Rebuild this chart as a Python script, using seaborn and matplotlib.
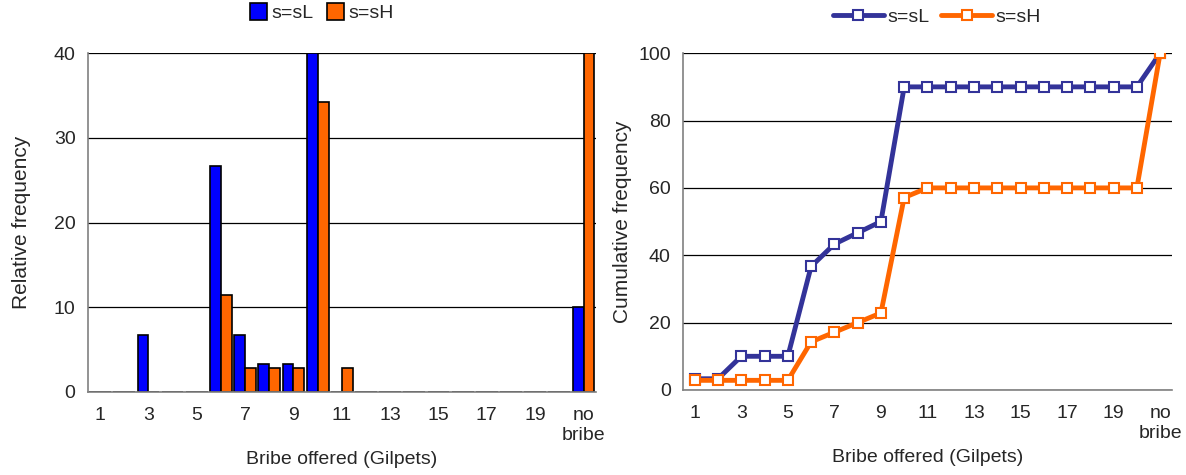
import numpy as np
import pandas as pd
import matplotlib.pyplot as plt
import seaborn as sns

# bribe categories (1..20 Gilpets plus "no bribe")
categories = [str(i) for i in range(1, 21)] + ['no bribe']
tick_labels = ['1', '3', '5', '7', '9', '11', '13', '15', '17', '19', 'no\nbribe']

# relative frequency (%)
rel_sL = [0, 0, 6.67, 0, 0, 26.67, 6.67, 3.33, 3.33, 40,
          0, 0, 0, 0, 0, 0, 0, 0, 0, 0, 10]
rel_sH = [0, 0, 0, 0, 0, 11.43, 2.86, 2.86, 2.86, 34.29,
          2.86, 0, 0, 0, 0, 0, 0, 0, 0, 0, 40]

# cumulative frequency (%)
cum_sL = [3.33, 3.33, 10, 10, 10, 36.67, 43.33, 46.67, 50, 90,
          90, 90, 90, 90, 90, 90, 90, 90, 90, 90, 100]
cum_sH = [2.86, 2.86, 2.86, 2.86, 2.86, 14.29, 17.14, 20, 22.86, 57.14,
          60, 60, 60, 60, 60, 60, 60, 60, 60, 60, 100]

series = ['s=sL', 's=sH']
bar_colors = {'s=sL': '#0000FF', 's=sH': '#FF6600'}
line_colors = {'s=sL': '#333399', 's=sH': '#FF6600'}

sns.set_style('white')
plt.rcParams['font.family'] = ['Liberation Sans', 'DejaVu Sans']
plt.rcParams['font.size'] = 14

df_rel = pd.DataFrame({
    'bribe': categories * 2,
    'value': rel_sL + rel_sH,
    'series': [series[0]] * len(categories) + [series[1]] * len(categories),
})
df_cum = pd.DataFrame({
    'idx': list(range(len(categories))) * 2,
    'value': cum_sL + cum_sH,
    'series': [series[0]] * len(categories) + [series[1]] * len(categories),
})

fig = plt.figure(figsize=(11.86, 4.75), dpi=100)
ax1 = fig.add_axes([0.0742, 0.175, 0.428, 0.713])
ax2 = fig.add_axes([0.576, 0.179, 0.412, 0.709])

# ---- left: relative frequency bars
sns.barplot(data=df_rel, x='bribe', y='value', hue='series', order=categories,
            hue_order=series, palette=bar_colors, saturation=1, edgecolor='black',
            linewidth=1.2, width=0.9, ax=ax1)
ax1.set_ylim(0, 40)
ax1.set_yticks([0, 10, 20, 30, 40])
ax1.set_ylabel('Relative frequency', fontsize=15, labelpad=16)
sns.move_legend(ax1, 'lower center', bbox_to_anchor=(0.46, 1.04), ncol=2,
                frameon=False, title=None, handlelength=0.9, handleheight=1.0,
                handletextpad=0.2, columnspacing=0.7, fontsize=14)

# ---- right: cumulative frequency lines
for s in series:
    d = df_cum[df_cum['series'] == s]
    sns.lineplot(data=d, x='idx', y='value', color=line_colors[s], linewidth=3.5,
                 marker='s', markersize=7, markerfacecolor='white',
                 markeredgecolor=line_colors[s], markeredgewidth=1.5,
                 label=s, ax=ax2)
ax2.set_ylim(0, 100)
ax2.set_yticks([0, 20, 40, 60, 80, 100])
ax2.set_ylabel('Cumulative frequency', fontsize=15, labelpad=4)
ax2.legend(loc='lower center', bbox_to_anchor=(0.52, 1.03), ncol=2,
           frameon=False, handlelength=2.6, handletextpad=0.2,
           columnspacing=0.6, fontsize=14)

for ax in (ax1, ax2):
    ax.set_xlim(-0.5, len(categories) - 0.5)
    ax.set_xticks(np.arange(-0.5, len(categories)), labels=[])
    ax.set_xticks(np.arange(0, len(categories), 2), labels=tick_labels, minor=True)
    ax.tick_params(axis='x', which='major', direction='out', length=6,
                   color='#808080', width=1)
    ax.tick_params(axis='x', which='minor', length=0, pad=11, labelsize=14)
    ax.tick_params(axis='y', direction='out', length=5, color='#808080', pad=4,
                   labelsize=14)
    ax.set_xlabel('Bribe offered (Gilpets)', labelpad=5)
    ax.yaxis.grid(True, color='black', linewidth=0.9)
    ax.xaxis.grid(False)
    ax.set_axisbelow(True)
    for side in ('top', 'right'):
        ax.spines[side].set_visible(False)
    for side in ('left', 'bottom'):
        ax.spines[side].set_color('#808080')
        ax.spines[side].set_linewidth(1.2)

fig.savefig('out.png', dpi=100)
